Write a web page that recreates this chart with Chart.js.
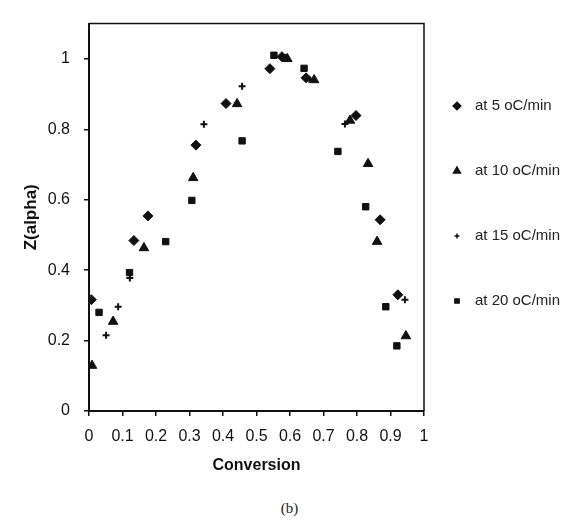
<!DOCTYPE html>
<html>
<head>
<meta charset="utf-8">
<script src="https://cdn.jsdelivr.net/npm/chart.js@4/dist/chart.umd.min.js"></script>
<style>
  body { margin: 0; background: #fff; }
  #wrap { position: relative; width: 579px; height: 523px; }
  #caption { position: absolute; left: 0; width: 579px; top: 500px; text-align: center;
             font: 15px "Liberation Serif", "DejaVu Serif", serif; color: #222; }
</style>
</head>
<body>
<div id="wrap">
  <canvas id="grafica" width="579" height="490"></canvas>
  <div id="caption">(b)</div>
</div>
<script>
// Datos
const x5  = [0.007, 0.134, 0.176, 0.319, 0.409, 0.540, 0.576, 0.648, 0.797, 0.869, 0.922];
const y5  = [0.316, 0.484, 0.554, 0.755, 0.873, 0.972, 1.006, 0.946, 0.839, 0.543, 0.330];

const x10 = [0.009, 0.072, 0.164, 0.311, 0.442, 0.592, 0.672, 0.779, 0.833, 0.860, 0.946];
const y10 = [0.129, 0.254, 0.463, 0.662, 0.872, 1.000, 0.940, 0.825, 0.702, 0.481, 0.213];

const x15 = [0.051, 0.087, 0.122, 0.343, 0.457, 0.585, 0.658, 0.764, 0.943];
const y15 = [0.215, 0.296, 0.378, 0.814, 0.922, 1.004, 0.942, 0.815, 0.316];

const x20 = [0.030, 0.121, 0.229, 0.307, 0.457, 0.552, 0.642, 0.743, 0.826, 0.886, 0.919];
const y20 = [0.280, 0.393, 0.481, 0.598, 0.767, 1.010, 0.973, 0.737, 0.580, 0.296, 0.185];

const seriesLabels = ['at 5 oC/min', 'at 10 oC/min', 'at 15 oC/min', 'at 20 oC/min'];
const xTicksMin = 0, xTicksMax = 1, xStep = 0.1;
const yTicksMin = 0, yTicksMax = 1.1, yStep = 0.2;

const toPoints = (xs, ys) => xs.map((x, i) => ({ x: x, y: ys[i] }));

const ink = '#111';

// Marco superior/derecho y leyenda a la derecha
const marcoYLeyenda = {
    id: 'marcoYLeyenda',
    afterDraw(chart) {
        const ctx = chart.ctx;
        const a = chart.chartArea;
        ctx.save();
        ctx.strokeStyle = ink;
        ctx.lineWidth = 1.5;
        ctx.beginPath();
        ctx.moveTo(a.left, a.top);
        ctx.lineTo(a.right, a.top);
        ctx.lineTo(a.right, a.bottom);
        ctx.stroke();

        const legendSizes = [3.8, 4, 2.5, 3];
        ctx.font = '15px "Liberation Sans", Arial, sans-serif';
        ctx.textBaseline = 'middle';
        chart.data.datasets.forEach((ds, i) => {
            const y = 106 + i * 65;
            ctx.fillStyle = ink;
            ctx.strokeStyle = ink;
            Chart.helpers.drawPoint(ctx, {
                pointStyle: ds.pointStyle,
                radius: legendSizes[i],
                borderWidth: ds.pointStyle === 'cross' ? 1.5 : 1
            }, 457, y);
            ctx.fillStyle = '#222';
            ctx.fillText(ds.label, 475, y);
        });
        ctx.restore();
    }
};

const ctx = document.getElementById('grafica').getContext('2d');
new Chart(ctx, {
    type: 'scatter',
    data: {
        datasets: [
            { label: seriesLabels[0], data: toPoints(x5, y5), pointStyle: 'rectRot', pointRadius: 5,
              backgroundColor: ink, borderColor: ink, borderWidth: 1 },
            { label: seriesLabels[1], data: toPoints(x10, y10), pointStyle: 'triangle', pointRadius: 5.5,
              backgroundColor: ink, borderColor: ink, borderWidth: 1 },
            { label: seriesLabels[2], data: toPoints(x15, y15), pointStyle: 'cross', pointRadius: 3.5,
              backgroundColor: ink, borderColor: ink, borderWidth: 2 },
            { label: seriesLabels[3], data: toPoints(x20, y20), pointStyle: 'rect', pointRadius: 4.5,
              backgroundColor: ink, borderColor: ink, borderWidth: 1 }
        ]
    },
    options: {
        responsive: false,
        animation: false,
        layout: { padding: { left: 0, top: 16, right: 155, bottom: 0 } },
        plugins: {
            legend: { display: false },
            tooltip: { enabled: false }
        },
        scales: {
            x: {
                type: 'linear',
                min: xTicksMin,
                max: xTicksMax,
                afterFit: s => { s.height = 79; },
                ticks: {
                    stepSize: xStep,
                    color: ink,
                    padding: 11,
                    maxRotation: 0,
                    autoSkip: false,
                    font: { family: '"Liberation Sans", Arial, sans-serif', size: 16 },
                    callback: v => String(parseFloat(v.toFixed(1)))
                },
                grid: { drawOnChartArea: false, drawTicks: true, tickLength: 5, color: ink, lineWidth: 1.5 },
                border: { display: true, color: ink, width: 2 },
                title: {
                    display: true,
                    text: 'Conversion',
                    color: ink,
                    padding: { top: 0, bottom: 15 },
                    font: { family: '"Liberation Sans", Arial, sans-serif', size: 16, weight: 'bold' }
                }
            },
            y: {
                min: yTicksMin,
                max: yTicksMax,
                afterFit: s => { s.width = 89; },
                ticks: {
                    stepSize: yStep,
                    includeBounds: false,
                    color: ink,
                    padding: 14,
                    font: { family: '"Liberation Sans", Arial, sans-serif', size: 16 },
                    callback: v => String(parseFloat(v.toFixed(1)))
                },
                grid: { drawOnChartArea: false, drawTicks: true, tickLength: 5, color: ink, lineWidth: 1.5 },
                border: { display: true, color: ink, width: 2 },
                title: {
                    display: true,
                    text: 'Z(alpha)',
                    color: ink,
                    padding: { top: 21, bottom: 0 },
                    font: { family: '"Liberation Sans", Arial, sans-serif', size: 17, weight: 'bold' }
                }
            }
        }
    },
    plugins: [marcoYLeyenda]
});
</script>
</body>
</html>
